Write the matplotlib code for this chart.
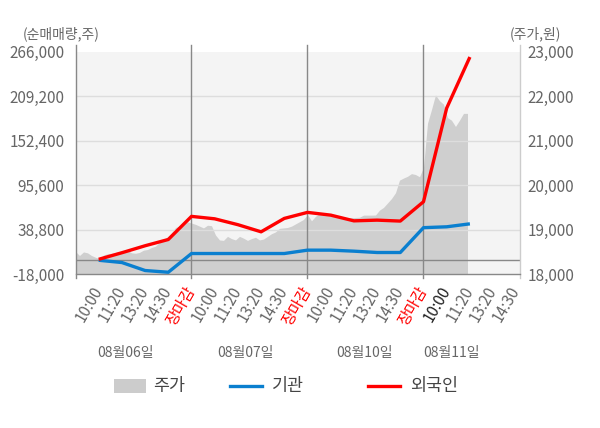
import numpy as np
import matplotlib
matplotlib.use('Agg')
import matplotlib.pyplot as plt
from matplotlib.patches import Rectangle
from matplotlib.lines import Line2D

plt.rcParams['font.family'] = ['Noto Sans CJK KR', 'DejaVu Sans']

# data
days = ["08월06일", "08월07일", "08월10일", "08월11일"]
times = ["10:00", "11:20", "13:20", "14:30", "장마감"]
tick_labels = times * 3 + times[:4]

# cumulative net buying (shares) at each tick
foreign = [1000, 9400, 18300, 26300, 55800,
           52700, 45200, 36100, 53200, 60900,
           57400, 50100, 51000, 49800, 74500,
           194000, 259200]
inst = [-200, -3100, -13300, -15500, 8400,
        8400, 8400, 8400, 8400, 12700,
        12700, 11400, 9700, 9700, 41400,
        42500, 46300]

# stock price at even steps
price = [18510, 18420, 18500, 18480, 18420, 18380, 18350, 18430, 18460, 18470,
         18490, 18510, 18520, 18540, 18480, 18470, 18490, 18540, 18555, 18600,
         18630, 18720, 18780, 18840, 18930, 19050, 19080, 19100, 19176, 19150,
         19120, 19080, 19040, 19100, 19090, 18880, 18770, 18760, 18850, 18800,
         18770, 18850, 18810, 18760, 18800, 18830, 18770, 18790, 18850, 18910,
         18950, 19030, 19040, 19050, 19080, 19130, 19180, 19230, 19340, 19200,
         19300, 19365, 19365, 19360, 19365, 19300, 19289, 19289, 19260, 19270,
         19275, 19280, 19327, 19327, 19327, 19330, 19440, 19500, 19600, 19700,
         19830, 20114, 20160, 20200, 20260, 20240, 20190, 20400, 21390, 21700,
         22030, 21900, 21820, 21520, 21460, 21320, 21460, 21614, 21614]

vol_ticks = [-18000, 38800, 95600, 152400, 209200, 266000]
price_ticks = [18000, 19000, 20000, 21000, 22000, 23000]

W, H = 600, 428
fx = lambda x: x / W
fy = lambda y: 1 - y / H

fig = plt.figure(figsize=(6, 4.28), dpi=100)
rect = [fx(75.5), fy(274.2), fx(520) - fx(75.5), fy(51.7) - fy(274.2)]

# price axis (behind)
axp = fig.add_axes(rect)
axp.set_facecolor('#f4f4f4')
px = np.arange(len(price)) / 29.0
axp.fill_between(px, 18000, price, color='#cfcfcf', lw=0)
axp.set_ylim(18000, 23000)
axp.set_yticks(price_ticks)
axp.set_yticklabels([f"{v:,}" for v in price_ticks])
axp.yaxis.tick_right()
axp.tick_params(axis='y', length=0, pad=5.5, labelsize=11, labelcolor='#666666')
axp.tick_params(axis='x', length=0, labelbottom=False)
for s in axp.spines.values():
    s.set_visible(False)

# volume axis (front)
ax = fig.add_axes(rect, sharex=axp)
ax.patch.set_visible(False)
ax.set_ylim(-18000, 266000)
ax.set_xlim(0, 3.832)
for v in vol_ticks[1:-1]:
    ax.axhline(v, color='#dddddd', lw=1, zorder=1)
ax.axhline(0, color='#888888', lw=1, zorder=1)
ax.set_yticks(vol_ticks)
ax.set_yticklabels([f"{v:,}" for v in vol_ticks])
ax.tick_params(axis='y', length=0, pad=8, labelsize=11, labelcolor='#666666')
for side in ['top', 'right', 'left']:
    ax.spines[side].set_visible(False)
ax.spines['bottom'].set_color('#888888')
ax.spines['bottom'].set_linewidth(1)

xt = [0.2 * (i + 1) for i in range(len(tick_labels))]
ax.set_xticks(xt)
ax.set_xticklabels(tick_labels)
ax.tick_params(axis='x', length=0, pad=10, labelsize=11)
for i, lab in enumerate(ax.get_xticklabels()):
    lab.set_rotation(60)
    lab.set_rotation_mode('anchor')
    lab.set_ha('right')
    lab.set_va('center')
    if tick_labels[i] == "장마감":
        lab.set_color('#ff0000')
    elif i == 15:
        lab.set_color('#222222')
    else:
        lab.set_color('#666666')

# day separators and side lines
xform = ax.get_xaxis_transform()
for d in range(4):
    ax.plot([d, d], [-0.018, 1.03], transform=xform, color='#888888', lw=1,
            clip_on=False, zorder=2)
ax.plot([3.832, 3.832], [-0.018, 1.03], transform=xform, color='#cccccc', lw=1,
        clip_on=False, zorder=2)

lx = np.array(xt[:len(foreign)])
ax.plot(lx, inst, color='#0a7fcf', lw=2.4, zorder=4, solid_capstyle='butt')
ax.plot(lx, foreign, color='#ff0000', lw=2.4, zorder=5, solid_capstyle='butt')

# axis titles
fig.text(fx(61), fy(34), "(순매매량,주)", ha='center', va='center', fontsize=10, color='#666666')
fig.text(fx(535.5), fy(34), "(주가,원)", ha='center', va='center', fontsize=10, color='#666666')

# day labels
for d, cx in zip(days, [125, 245, 365, 452]):
    fig.text(fx(cx), fy(353), d, ha='center', va='center', fontsize=10, color='#666666')

# legend
ly = 386
fig.add_artist(Rectangle((fx(114), fy(393)), fx(32), 14 / H, transform=fig.transFigure,
                         facecolor='#cccccc', edgecolor='none'))
fig.text(fx(153), fy(ly), "주가", ha='left', va='center', fontsize=12.5, color='#444444')
fig.add_artist(Line2D([fx(230), fx(262)], [fy(ly), fy(ly)], transform=fig.transFigure,
                      color='#0a7fcf', lw=2.4))
fig.text(fx(272), fy(ly), "기관", ha='left', va='center', fontsize=12.5, color='#444444')
fig.add_artist(Line2D([fx(368), fx(400)], [fy(ly), fy(ly)], transform=fig.transFigure,
                      color='#ff0000', lw=2.4))
fig.text(fx(410), fy(ly), "외국인", ha='left', va='center', fontsize=12.5, color='#444444')

fig.savefig('out.png', dpi=100)
